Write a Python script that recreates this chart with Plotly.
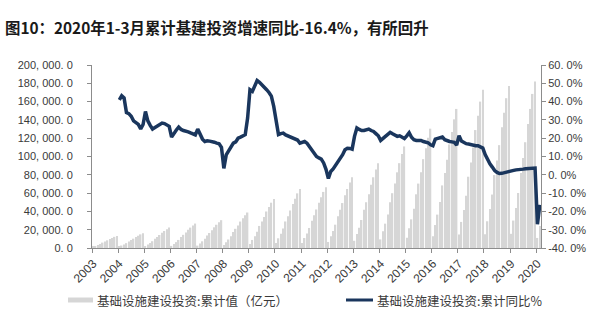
import plotly.graph_objects as go

# ---------------------------------------------------------------------------
# Infrastructure investment: cumulative value (100m CNY) and cumulative YoY (%)
# Monthly releases run Feb..Dec (Jan is merged into Feb); 2020 ends in March.
# ---------------------------------------------------------------------------
years = [2003, 2004, 2005, 2006, 2007, 2008, 2009, 2010, 2011,
         2012, 2013, 2014, 2015, 2016, 2017, 2018, 2019, 2020]

cum_2003 = [1100, 2200, 3200, 4400, 5900, 7100, 8400, 9800, 11000, 12200, 13200]
cum_2004 = [1400, 2700, 3900, 5300, 7200, 8700, 10200, 12000, 13400, 14900, 16100]
cum_2005 = [1900, 3700, 5400, 7400, 10000, 12000, 14200, 16600, 18600, 20600, 22300]
cum_2006 = [2300, 4400, 6400, 8800, 12000, 14400, 17000, 19900, 22300, 24700, 26700]
cum_2007 = [2600, 5000, 7300, 10000, 13700, 16400, 19300, 22600, 25400, 28100, 30400]
cum_2008 = [3300, 6400, 9300, 12800, 17500, 21000, 24600, 28900, 32400, 35900, 38800]
cum_2009 = [4500, 8800, 12800, 17700, 24100, 28900, 34000, 39900, 44700, 49500, 53500]
cum_2010 = [5500, 10600, 15500, 21300, 29000, 34800, 41000, 48100, 53900, 59700, 64500]
cum_2011 = [5600, 10900, 15900, 21900, 29800, 35800, 42100, 49400, 55400, 61300, 66300]
cum_2012 = [6600, 12800, 18600, 25500, 34800, 41700, 49100, 57600, 64500, 71500, 77300]
cum_2013 = [7900, 15300, 22200, 30600, 41700, 50000, 58800, 69000, 77300, 85700, 92600]
cum_2014 = [9400, 18300, 26600, 36600, 50000, 59900, 70500, 82700, 92700, 102700, 111000]
cum_2015 = [11100, 21500, 31300, 43000, 58700, 70400, 82800, 97100, 108900, 120600, 130400]
cum_2016 = [12900, 25100, 36500, 50200, 68400, 82100, 96500, 113200, 126900, 140600, 152000]
cum_2017 = [14700, 28500, 41500, 57100, 77900, 93400, 109900, 128900, 144500, 160000, 173000]
cum_2018 = [15000, 29200, 42500, 58400, 79700, 95600, 112400, 131900, 147800, 163700, 177000]
cum_2019 = [15500, 30000, 43700, 60100, 81900, 98300, 115600, 135600, 152000, 168400, 182000]
cum_2020 = [11000, 24000]

yoy_2003 = [None, None, None, None, None, None, None, None, None, None, None]
yoy_2004 = [41.0, 43.2, 42.0, 34.0, 33.4, 32.0, 29.5, 28.5, 27.5, 25.0, 27.5]
yoy_2005 = [34.6, 29.5, 27.0, 25.0, 25.8, 26.8, 27.6, 28.3, 28.0, 27.4, 26.5]
yoy_2006 = [20.6, 23.0, 24.5, 26.1, 24.8, 24.2, 24.0, 23.5, 22.9, 22.4, 21.8]
yoy_2007 = [25.0, 22.0, 19.5, 18.2, 18.6, 18.4, 18.2, 17.8, 17.3, 17.0, 15.0]
yoy_2008 = [3.5, 10.9, 13.0, 15.5, 17.3, 18.0, 20.0, 20.6, 21.2, 21.9, 31.0]
yoy_2009 = [46.5, 45.6, 48.8, 51.5, 50.5, 49.3, 48.0, 46.5, 45.0, 43.0, 37.4]
yoy_2010 = [29.5, 22.0, 22.5, 22.8, 21.8, 21.2, 20.5, 20.0, 19.5, 19.0, 17.3]
yoy_2011 = [18.0, 18.2, 17.3, 15.5, 13.5, 11.5, 10.0, 9.2, 8.6, 6.5, 3.0]
yoy_2012 = [-2.0, 1.8, 3.2, 5.0, 7.3, 8.8, 11.0, 13.7, 14.5, 14.4, 14.0]
yoy_2013 = [21.0, 25.6, 24.8, 24.2, 24.2, 24.6, 25.0, 24.2, 23.7, 22.5, 21.3]
yoy_2014 = [18.8, 20.0, 21.0, 22.2, 23.2, 22.4, 21.7, 21.0, 21.3, 20.4, 19.8]
yoy_2015 = [21.3, 23.0, 20.5, 19.2, 18.8, 18.8, 18.8, 18.2, 18.0, 17.5, 16.4]
yoy_2016 = [15.9, 19.5, 20.0, 20.3, 20.6, 19.2, 18.6, 18.2, 18.0, 17.7, 16.2]
yoy_2017 = [21.4, 18.5, 17.5, 17.0, 16.8, 16.4, 16.0, 15.9, 15.9, 15.5, 14.6]
yoy_2018 = [11.0, 8.3, 6.0, 4.2, 2.3, 1.3, 0.7, 0.8, 1.2, 1.5, 1.9]
yoy_2019 = [2.1, 2.4, 2.7, 2.7, 2.9, 3.1, 3.3, 3.3, 3.5, 3.7, 3.7]
yoy_2020 = [-27.0, -16.4]

left_ticks = [0, 20000, 40000, 60000, 80000, 100000, 120000, 140000, 160000, 180000, 200000]
right_ticks = [-40, -30, -20, -10, 0, 10, 20, 30, 40, 50, 60]

title_text = "图10：2020年1-3月累计基建投资增速同比-16.4%，有所回升"
bar_name = "基础设施建设投资:累计值（亿元）"
line_name = "基础设施建设投资:累计同比%"

cum_series = [cum_2003, cum_2004, cum_2005, cum_2006, cum_2007, cum_2008,
              cum_2009, cum_2010, cum_2011, cum_2012, cum_2013, cum_2014,
              cum_2015, cum_2016, cum_2017, cum_2018, cum_2019, cum_2020]
yoy_series = [yoy_2003, yoy_2004, yoy_2005, yoy_2006, yoy_2007, yoy_2008,
              yoy_2009, yoy_2010, yoy_2011, yoy_2012, yoy_2013, yoy_2014,
              yoy_2015, yoy_2016, yoy_2017, yoy_2018, yoy_2019, yoy_2020]

# one slot per monthly release
x, cum, yoy, year_pos, year_edges = [], [], [], [], []
for yr, c_vals, g_vals in zip(years, cum_series, yoy_series):
    year_pos.append(len(x))
    year_edges.append(len(x) - 0.5)
    for c, g in zip(c_vals, g_vals):
        x.append(len(x))
        cum.append(c)
        yoy.append(g)

BAR = "#d6d6d6"
LINE = "#1a365d"
AXIS = "#8c8c8c"
TXT = "#3a3a3a"
W, H = 600, 326
ML, MR, MT, MB = 92, 59, 65, 78
PW, PH = W - ML - MR, H - MT - MB


def px_x(p):
    return (p - ML) / PW


def px_y(p):
    return (H - MB - p) / PH


fig = go.Figure()
fig.add_trace(go.Bar(x=x, y=cum, marker=dict(color=BAR, line=dict(width=0)),
                     name=bar_name, showlegend=False))
fig.add_trace(go.Scatter(x=x, y=yoy, yaxis="y2", mode="lines",
                         line=dict(color=LINE, width=3.5), name=line_name,
                         showlegend=False, connectgaps=False))

tick_font = dict(family="Liberation Sans, Arial, sans-serif", size=11, color=TXT)
year_font = dict(family="Liberation Sans, Arial, sans-serif", size=12, color=TXT)

fig.update_layout(
    width=W, height=H,
    margin=dict(l=ML, r=MR, t=MT, b=MB),
    paper_bgcolor="white", plot_bgcolor="white",
    bargap=0.38,
    title=dict(text="<b>" + title_text + "</b>", x=5 / W, xanchor="left",
               y=1 - 29 / H, yanchor="middle",
               font=dict(family="Noto Sans CJK SC", size=15.4, color="#1a1a1a")),
    xaxis=dict(
        range=[-0.5, len(x) - 0.5],
        tickmode="array", tickvals=year_pos, ticktext=[str(y) for y in years],
        tickangle=-45, tickfont=year_font,
        showgrid=False, zeroline=False,
        showline=True, linecolor=AXIS, linewidth=1,
        ticks="", ticklabelstandoff=3,
        minor=dict(tickmode="array", tickvals=year_edges, ticks="outside",
                   ticklen=4, tickcolor=AXIS, showgrid=False),
    ),
    yaxis=dict(
        range=[0, 200000],
        tickmode="array", tickvals=left_ticks,
        ticktext=[f"{v:,.1f}".replace(",", ", ").replace(".", ". ") for v in left_ticks],
        tickfont=tick_font, showgrid=False, zeroline=False,
        showline=True, linecolor=AXIS, linewidth=1,
        ticks="outside", ticklen=4, tickcolor=AXIS, ticklabelstandoff=12,
    ),
    yaxis2=dict(
        range=[-40, 60], overlaying="y", side="right",
        tickmode="array", tickvals=right_ticks,
        ticktext=[f"{v:.1f}%".replace(".", ". ") for v in right_ticks],
        tickfont=tick_font, showgrid=False, zeroline=False,
        showline=True, linecolor=AXIS, linewidth=1,
        ticks="outside", ticklen=4, tickcolor=AXIS, ticklabelstandoff=0,
    ),
)

# legend row below the axis
leg_y = 300
fig.add_shape(type="rect", xref="paper", yref="paper",
              x0=px_x(68), x1=px_x(93), y0=px_y(302.5), y1=px_y(297.5),
              fillcolor=BAR, line=dict(width=0))
fig.add_shape(type="line", xref="paper", yref="paper",
              x0=px_x(346), x1=px_x(373), y0=px_y(leg_y), y1=px_y(leg_y),
              line=dict(color=LINE, width=3))
leg_font = dict(family="Noto Sans CJK SC", size=12.5, color=TXT)
fig.add_annotation(text=bar_name, xref="paper", yref="paper",
                   x=px_x(95), y=px_y(leg_y), xanchor="left", yanchor="middle",
                   showarrow=False, font=leg_font)
fig.add_annotation(text=line_name, xref="paper", yref="paper",
                   x=px_x(375), y=px_y(leg_y), xanchor="left", yanchor="middle",
                   showarrow=False, font=leg_font)

fig.write_html("out.html")
